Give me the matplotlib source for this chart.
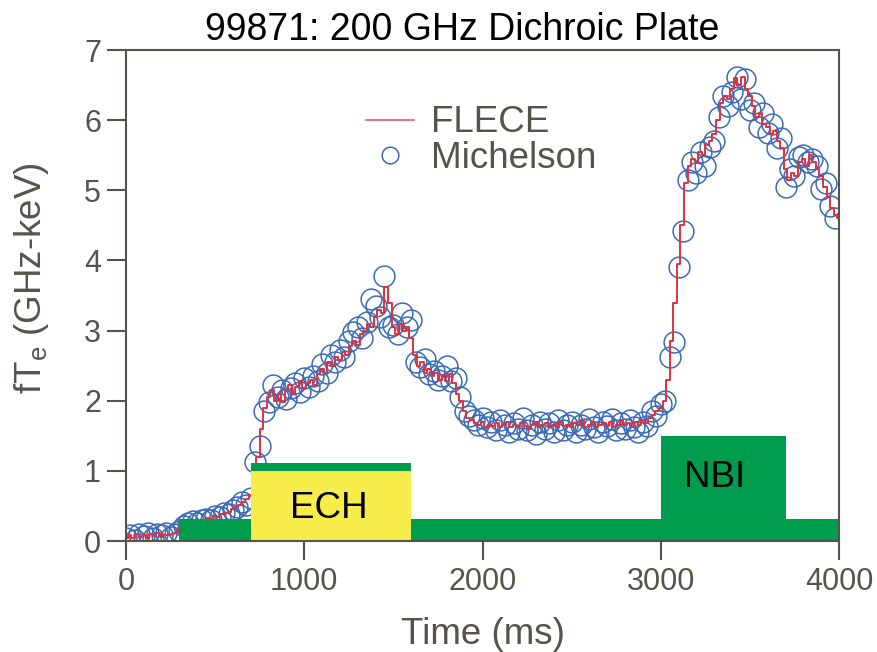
import numpy as np
import matplotlib
matplotlib.use("Agg")
import matplotlib.pyplot as plt
from matplotlib.lines import Line2D

plt.rcParams['font.family'] = ['Liberation Sans', 'DejaVu Sans']

# FLECE trace, one value every 20 ms from 0 ms
flece_dt = 20
flece_vals = [
    # 0 - 280
    0.05, 0.08, 0.04, 0.10, 0.06, 0.09, 0.05, 0.10, 0.07, 0.11, 0.06, 0.09, 0.08, 0.10, 0.12,
    # 300 - 700
    0.18, 0.22, 0.24, 0.27, 0.25, 0.28, 0.30, 0.29, 0.33, 0.31, 0.36, 0.34, 0.38, 0.40, 0.42,
    0.45, 0.48, 0.52, 0.55, 0.60, 0.65,
    # 720 - 1000
    0.85, 1.20, 1.60, 1.90, 2.05, 2.15, 2.00, 2.10, 1.98, 2.15, 2.22, 2.10, 2.20, 2.28, 2.18,
    # 1020 - 1440
    2.25, 2.30, 2.22, 2.38, 2.45, 2.40, 2.55, 2.50, 2.62, 2.58, 2.70, 2.65, 2.78, 2.85, 2.80,
    2.95, 3.00, 3.10, 3.05, 3.20, 3.30, 3.25,
    # 1460 - 1600
    3.62, 3.40, 3.05, 2.95, 3.10, 3.00, 3.05, 2.90,
    # 1620 - 1880
    2.65, 2.50, 2.55, 2.40, 2.45, 2.35, 2.40, 2.30, 2.36, 2.28, 2.38, 2.25, 2.10, 2.00,
    # 1900 - 2980
    1.85, 1.75, 1.72, 1.68, 1.65, 1.70, 1.62, 1.66, 1.64, 1.68,
    1.62, 1.65, 1.70, 1.63, 1.66, 1.62, 1.68, 1.64, 1.60, 1.66,
    1.70, 1.62, 1.65, 1.68, 1.63, 1.66, 1.62, 1.70, 1.64, 1.66,
    1.62, 1.68, 1.65, 1.72, 1.63, 1.66, 1.70, 1.62, 1.66, 1.68,
    1.64, 1.70, 1.63, 1.66, 1.72, 1.65, 1.68, 1.62, 1.70, 1.66,
    1.72, 1.68, 1.75, 1.80, 1.85,
    # 3000 - 3300
    1.90, 2.00, 2.30, 2.85, 3.40, 3.95, 4.50, 5.10, 5.35, 5.45, 5.40, 5.55, 5.50, 5.65, 5.70, 5.80,
    # 3320 - 3500
    6.00, 6.25, 6.35, 6.30, 6.45, 6.60, 6.50, 6.62, 6.45, 6.35,
    # 3520 - 3700
    6.20, 6.05, 6.10, 5.95, 5.90, 5.80, 5.85, 5.70, 5.60, 5.30,
    # 3720 - 4000
    5.15, 5.25, 5.20, 5.40, 5.45, 5.35, 5.50, 5.40, 5.30, 5.20, 5.05, 4.90, 4.75, 4.65, 4.60,
]

# Michelson points, one every 25 ms from 0 ms
mich_dt = 25
mich_vals = [
    0.05, 0.08, 0.02, 0.10, 0.07, 0.12, 0.05, 0.10,
    0.08, 0.12, 0.06, 0.10, 0.15, 0.22, 0.25, 0.28,
    0.26, 0.30, 0.32, 0.30, 0.36, 0.34, 0.40, 0.38,
    0.44, 0.48, 0.55, 0.52, 0.62, 1.12, 1.35, 1.85,
    1.98, 2.22, 2.05, 2.15, 2.02, 2.18, 2.25, 2.12,
    2.32, 2.20, 2.35, 2.28, 2.52, 2.40, 2.65, 2.55,
    2.72, 2.62, 2.85, 2.98, 3.05, 2.90, 3.12, 3.45,
    3.35, 3.20, 3.78, 3.05, 3.08, 2.95, 3.25, 3.05,
    3.15, 2.55, 2.48, 2.60, 2.38, 2.42, 2.30, 2.35,
    2.50, 2.28, 2.32, 2.05, 1.85, 1.78, 1.72, 1.65,
    1.75, 1.62, 1.70, 1.58, 1.72, 1.65, 1.55, 1.68,
    1.60, 1.75, 1.58, 1.66, 1.52, 1.70, 1.60, 1.68,
    1.55, 1.72, 1.58, 1.65, 1.70, 1.56, 1.66, 1.60,
    1.74, 1.62, 1.55, 1.70, 1.64, 1.74, 1.58, 1.68,
    1.60, 1.72, 1.62, 1.56, 1.70, 1.64, 1.85, 1.78,
    1.95, 2.00, 2.62, 2.84, 3.90, 4.42, 5.15, 5.40,
    5.25, 5.55, 5.35, 5.62, 5.70, 6.05, 6.35, 6.20,
    6.40, 6.62, 6.30, 6.58, 6.15, 6.25, 5.90, 6.10,
    5.82, 5.95, 5.60, 5.75, 5.05, 5.30, 5.20, 5.48,
    5.50, 5.40, 5.45, 5.35, 5.02, 5.10, 4.78, 4.60,
]

# heating windows (ms) and bar heights
base_window = (300, 4000)
base_level = 0.31
ech_window = (700, 1600)
ech_level = 1.0
ech_cap = 0.11
nbi_window = (3000, 3700)
nbi_level = 1.5

xticks = [0, 1000, 2000, 3000, 4000]
yticks = [0, 1, 2, 3, 4, 5, 6, 7]

red = '#e0303f'
blue = '#3b6bb5'
green = '#009c4d'
yellow = '#f6ec4a'
axcol = '#57534a'

flece_t = np.arange(len(flece_vals)) * flece_dt
mich_t = np.arange(len(mich_vals)) * mich_dt

fig = plt.figure(figsize=(8.77, 6.52), dpi=100)
ax = fig.add_axes([0.1437, 0.1702, 0.8130, 0.7531])

ax.plot(flece_t, flece_vals, color=red, lw=1.4, drawstyle='steps-mid', zorder=3)
ax.plot(mich_t, mich_vals, 'o', ms=15, mfc='none', mec=blue, mew=1.1, zorder=2)

# heating bars drawn on top of the data
ax.bar(base_window[0], base_level, width=base_window[1] - base_window[0],
       align='edge', color=green, zorder=5)
ax.bar(ech_window[0], ech_level, width=ech_window[1] - ech_window[0],
       align='edge', color=yellow, zorder=6)
ax.bar(ech_window[0], ech_cap, bottom=ech_level, width=ech_window[1] - ech_window[0],
       align='edge', color=green, zorder=6)
ax.bar(nbi_window[0], nbi_level, width=nbi_window[1] - nbi_window[0],
       align='edge', color=green, zorder=5)

ax.text(sum(ech_window) / 2 - 10, 0.47, 'ECH', ha='center', va='center',
        fontsize=26.5, color='black', zorder=7)
ax.text(sum(nbi_window) / 2 - 50, 0.9, 'NBI', ha='center', va='center',
        fontsize=26.5, color='black', zorder=7)

ax.set_xlim(0, 4000)
ax.set_ylim(0, 7)
ax.set_xticks(xticks)
ax.set_yticks(yticks)
ax.tick_params(direction='out', length=14, width=1.5, color=axcol,
               labelcolor=axcol, labelsize=22)
ax.tick_params(axis='x', pad=5)
ax.tick_params(axis='y', pad=4)
for s in ax.spines.values():
    s.set_color(axcol)
    s.set_linewidth(1.5)
    s.set_zorder(8)

ax.set_xlabel('Time (ms)', fontsize=26.5, color=axcol, labelpad=14)
ax.set_ylabel('fT$_\\mathregular{e}$ (GHz-keV)', fontsize=26.5, color=axcol,
              labelpad=24, y=0.535)
ax.set_title('99871: 200 GHz Dichroic Plate', fontsize=27, color='black',
             pad=7, x=0.472)

handles = [Line2D([], [], color=red, lw=1.2, alpha=0.8),
           Line2D([], [], ls='none', marker='o', ms=12, mfc='none', mec=blue, mew=1.1)]
ax.legend(handles, ['FLECE', 'Michelson'], loc='upper left',
          bbox_to_anchor=(0.337, 0.887), frameon=False, fontsize=26.5,
          handlelength=1.3, handletextpad=0.45, labelspacing=0.02,
          borderpad=0, borderaxespad=0, labelcolor=axcol)

fig.savefig('out.png', dpi=100)
